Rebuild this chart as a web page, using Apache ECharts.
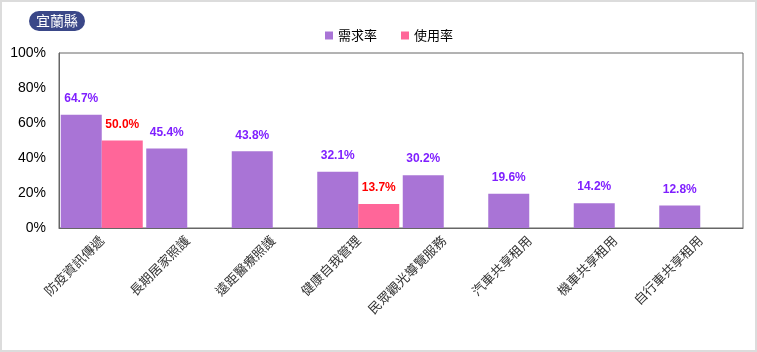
<!DOCTYPE html>
<html lang="zh-Hant">
<head>
    <meta charset="utf-8">
    <title>宜蘭縣</title>
    <script src="https://cdn.jsdelivr.net/npm/echarts@6/dist/echarts.min.js"></script>
    <style>
        html, body { margin: 0; padding: 0; background: #fff; }
        #main { width: 757px; height: 352px; box-sizing: border-box; border: 2px solid #dcdcdc; }
    </style>
</head>
<body>
    <div id="main"></div>
    <script type="text/javascript">
    var categories = ['防疫資訊傳遞', '長期居家照護', '遠距醫療照護', '健康自我管理', '民眾觀光導覽服務', '汽車共享租用', '機車共享租用', '自行車共享租用'];
    var demandRate = [64.7, 45.4, 43.8, 32.1, 30.2, 19.6, 14.2, 12.8];
    var usageRate = [50.0, null, null, 13.7, null, null, null, null];
    var yTicks = [0, 20, 40, 60, 80, 100];

    var font = '"Liberation Sans", "Noto Sans CJK TC", sans-serif';
    var myChart = echarts.init(document.getElementById('main'));

    myChart.setOption({
        animation: false,
        textStyle: { fontFamily: font },
        title: {
            text: '宜蘭縣',
            left: 27,
            top: 9,
            backgroundColor: '#3a4788',
            borderRadius: 11,
            padding: [3, 7, 3, 7],
            textStyle: { color: '#fff', fontSize: 14, fontWeight: 'normal', fontFamily: '"Noto Sans CJK TC", sans-serif' }
        },
        legend: {
            data: ['需求率', '使用率'],
            top: 22,
            left: 318,
            icon: 'rect',
            itemWidth: 8,
            itemHeight: 8,
            itemGap: 24,
            textStyle: { fontSize: 13, color: '#000', fontFamily: '"Noto Sans CJK TC", sans-serif' }
        },
        grid: {
            left: 57,
            top: 51,
            right: 12,
            bottom: 122,
            show: true,
            borderColor: '#666',
            borderWidth: 1
        },
        xAxis: {
            type: 'category',
            data: categories,
            axisLine: { lineStyle: { color: '#666' } },
            axisTick: { show: false },
            axisLabel: {
                interval: 0,
                rotate: 45,
                margin: 10,
                fontSize: 13,
                color: '#333',
                fontFamily: '"Noto Sans CJK TC", sans-serif'
            }
        },
        yAxis: {
            type: 'value',
            min: yTicks[0],
            max: yTicks[yTicks.length - 1],
            interval: 20,
            axisLine: { show: true, lineStyle: { color: '#666' } },
            axisTick: { show: false },
            splitLine: { show: false },
            axisLabel: { formatter: '{value}%', fontSize: 14, color: '#000', margin: 13 }
        },
        series: [{
            name: '需求率',
            type: 'bar',
            data: demandRate,
            barWidth: 41,
            barGap: '0%',
            itemStyle: { color: '#a974d6' },
            label: {
                show: true,
                position: 'top',
                distance: 10,
                formatter: function (p) { return p.value.toFixed(1) + '%'; },
                color: '#7f1fff',
                fontWeight: 'bold',
                fontSize: 12
            }
        }, {
            name: '使用率',
            type: 'bar',
            data: usageRate,
            barWidth: 41,
            barGap: '0%',
            itemStyle: { color: '#ff6699' },
            label: {
                show: true,
                position: 'top',
                distance: 10,
                formatter: function (p) { return p.value.toFixed(1) + '%'; },
                color: '#ff0000',
                fontWeight: 'bold',
                fontSize: 12
            }
        }]
    });
    </script>
</body>
</html>
